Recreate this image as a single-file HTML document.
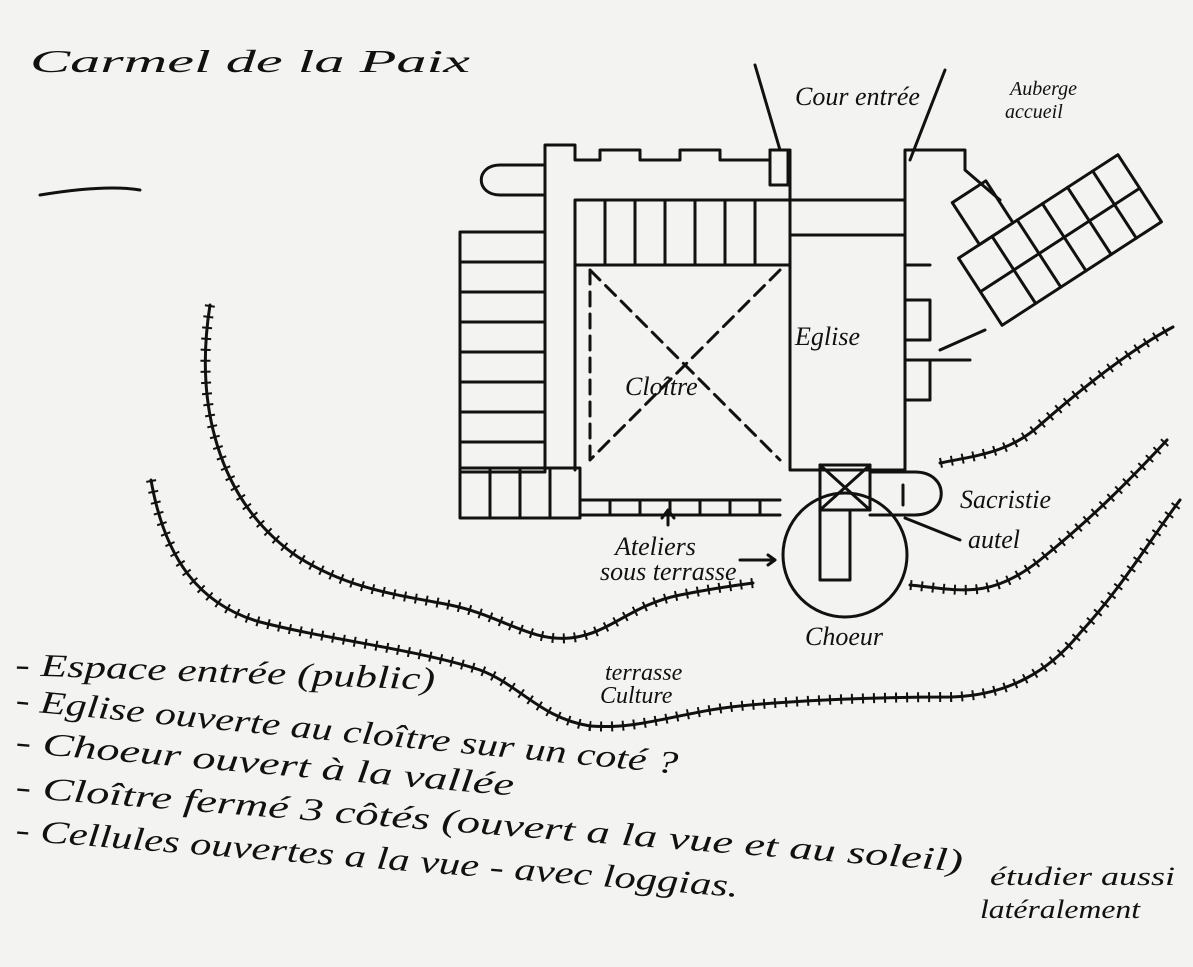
<!DOCTYPE html>
<html><head><meta charset="utf-8"><style>
html,body{margin:0;padding:0;background:#f3f3f1;}
svg{display:block}
text{font-family:"Liberation Serif",serif;font-style:italic;fill:#111;}
</style></head><body>
<svg width="1193" height="967" viewBox="0 0 1193 967" xmlns="http://www.w3.org/2000/svg">
<rect width="1193" height="967" fill="#f3f3f1"/>
<defs>
<path id="ca" d="M210,305 C195,400 215,500 298,557 C350,590 400,595 450,605 C500,615 530,642 570,638 C610,634 630,605 680,595 C710,589 730,586 753,583"/>
<path id="cb" d="M151,480 C165,560 200,605 260,622 C330,640 420,650 480,670 C520,685 540,718 590,726 C640,730 680,712 740,706 C800,700 880,697 952,697 C1010,695 1050,670 1080,633 C1120,590 1150,540 1180,500"/>
<path id="cc" d="M910,585 C960,590 990,600 1040,560 C1090,520 1130,480 1167,440"/>
<path id="cd" d="M940,463 C980,455 1010,452 1040,425 C1080,390 1130,350 1173,327"/>
</defs>
<g fill="none" stroke="#111" stroke-width="3" stroke-linecap="round">
<use href="#ca"/><use href="#cb"/><use href="#cc"/><use href="#cd"/>
</g>
<g fill="none" stroke="#111" stroke-width="10" stroke-linecap="butt" stroke-dasharray="2 9">
<use href="#ca"/><use href="#cb"/><use href="#cc"/><use href="#cd"/>
</g>
<g fill="none" stroke="#111" stroke-width="3" stroke-linecap="round" stroke-linejoin="round">
<path d="M755,65 L780,150"/><path d="M945,70 L910,160"/>
<rect x="460" y="232" width="85" height="240"/>
<path d="M460,262H545M460,292H545M460,322H545M460,352H545M460,382H545M460,412H545M460,442H545"/>
<path d="M545,470 V145 H575 V160 H600 V150 H640 V160 H680 V150 H720 V160 H770 V150 H790 V200 H905 V235"/>
<path d="M575,200 H790 V265 H575 Z"/>
<path d="M605,200V265M635,200V265M665,200V265M695,200V265M725,200V265M755,200V265"/>
<path d="M575,265 V470"/>
<path d="M790,265 V470 H905 V235 H790"/>
<path d="M790,235 H905"/>
<path d="M905,235 V150 H965 V170 L1000,200"/>
<path d="M905,265 H930 M905,300 H930 V340 H905 M905,360 H930 V400 H905 M930,360 H970"/>
<path d="M545,165 H500 C475,165 475,195 500,195 H545"/>
<rect x="770" y="150" width="18" height="35"/>
<g stroke-dasharray="14 8"><path d="M590,270 L780,460 M780,270 L590,460 M590,270 V460"/></g>
<rect x="460" y="468" width="120" height="50"/>
<path d="M490,468V518M520,468V518M550,468V518"/>
<path d="M580,500 H780 M580,515 H780"/>
<path d="M610,500V515M640,500V515M670,500V515M700,500V515M730,500V515M760,500V515"/>
<circle cx="845" cy="555" r="62"/>
<rect x="820" y="465" width="50" height="45"/>
<path d="M820,465 L870,510 M870,465 L820,510"/>
<rect x="820" y="510" width="30" height="70"/>
<path d="M870,472 H915 C950,472 950,515 915,515 H870"/>
<path d="M903,485V505"/>
<g transform="rotate(-33 1060 240)">
<rect x="965" y="200" width="190" height="80"/>
<path d="M965,240H1155M1005,200V280M1035,200V280M1065,200V280M1095,200V280M1125,200V280"/>
<rect x="990" y="150" width="40" height="50"/>
</g>
<path d="M940,350 L985,330"/>
<path d="M668,525 V510 M662,518 L668,510 L674,518"/>
<path d="M740,560 L775,560 M768,555 L775,560 L768,565"/>
<path d="M960,540 L905,518"/>
<path d="M140,190 C110,185 70,190 40,195"/>
</g>
<g font-size="26">
<text x="30" y="72" font-size="32" textLength="440" lengthAdjust="spacingAndGlyphs">Carmel de la Paix</text>
<text x="795" y="105">Cour entrée</text>
<text x="1010" y="95" font-size="20">Auberge</text>
<text x="1005" y="118" font-size="20">accueil</text>
<text x="795" y="345">Eglise</text>
<text x="625" y="395">Cloître</text>
<text x="960" y="508">Sacristie</text>
<text x="968" y="548">autel</text>
<text x="615" y="555">Ateliers</text>
<text x="600" y="580">sous terrasse</text>
<text x="805" y="645">Choeur</text>
<text x="605" y="680" font-size="24">terrasse</text>
<text x="600" y="703" font-size="24">Culture</text>
<g font-size="32">
<text x="15" y="675" textLength="420" lengthAdjust="spacingAndGlyphs" transform="rotate(2 15 675)">- Espace entrée (public)</text>
<text x="15" y="710" textLength="665" lengthAdjust="spacingAndGlyphs" transform="rotate(5.5 15 710)">- Eglise ouverte au cloître sur un coté ?</text>
<text x="15" y="752" textLength="500" lengthAdjust="spacingAndGlyphs" transform="rotate(5 15 752)">- Choeur ouvert à la vallée</text>
<text x="15" y="797" textLength="950" lengthAdjust="spacingAndGlyphs" transform="rotate(4.5 15 797)">- Cloître fermé 3 côtés (ouvert a la vue et au soleil)</text>
<text x="15" y="840" textLength="725" lengthAdjust="spacingAndGlyphs" transform="rotate(4.5 15 840)">- Cellules ouvertes a la vue - avec loggias.</text>
</g>
<text x="990" y="885" font-size="26" textLength="185" lengthAdjust="spacingAndGlyphs">étudier aussi</text>
<text x="980" y="918" font-size="26" textLength="160" lengthAdjust="spacingAndGlyphs">latéralement</text>
</g>
</svg>
</body></html>
